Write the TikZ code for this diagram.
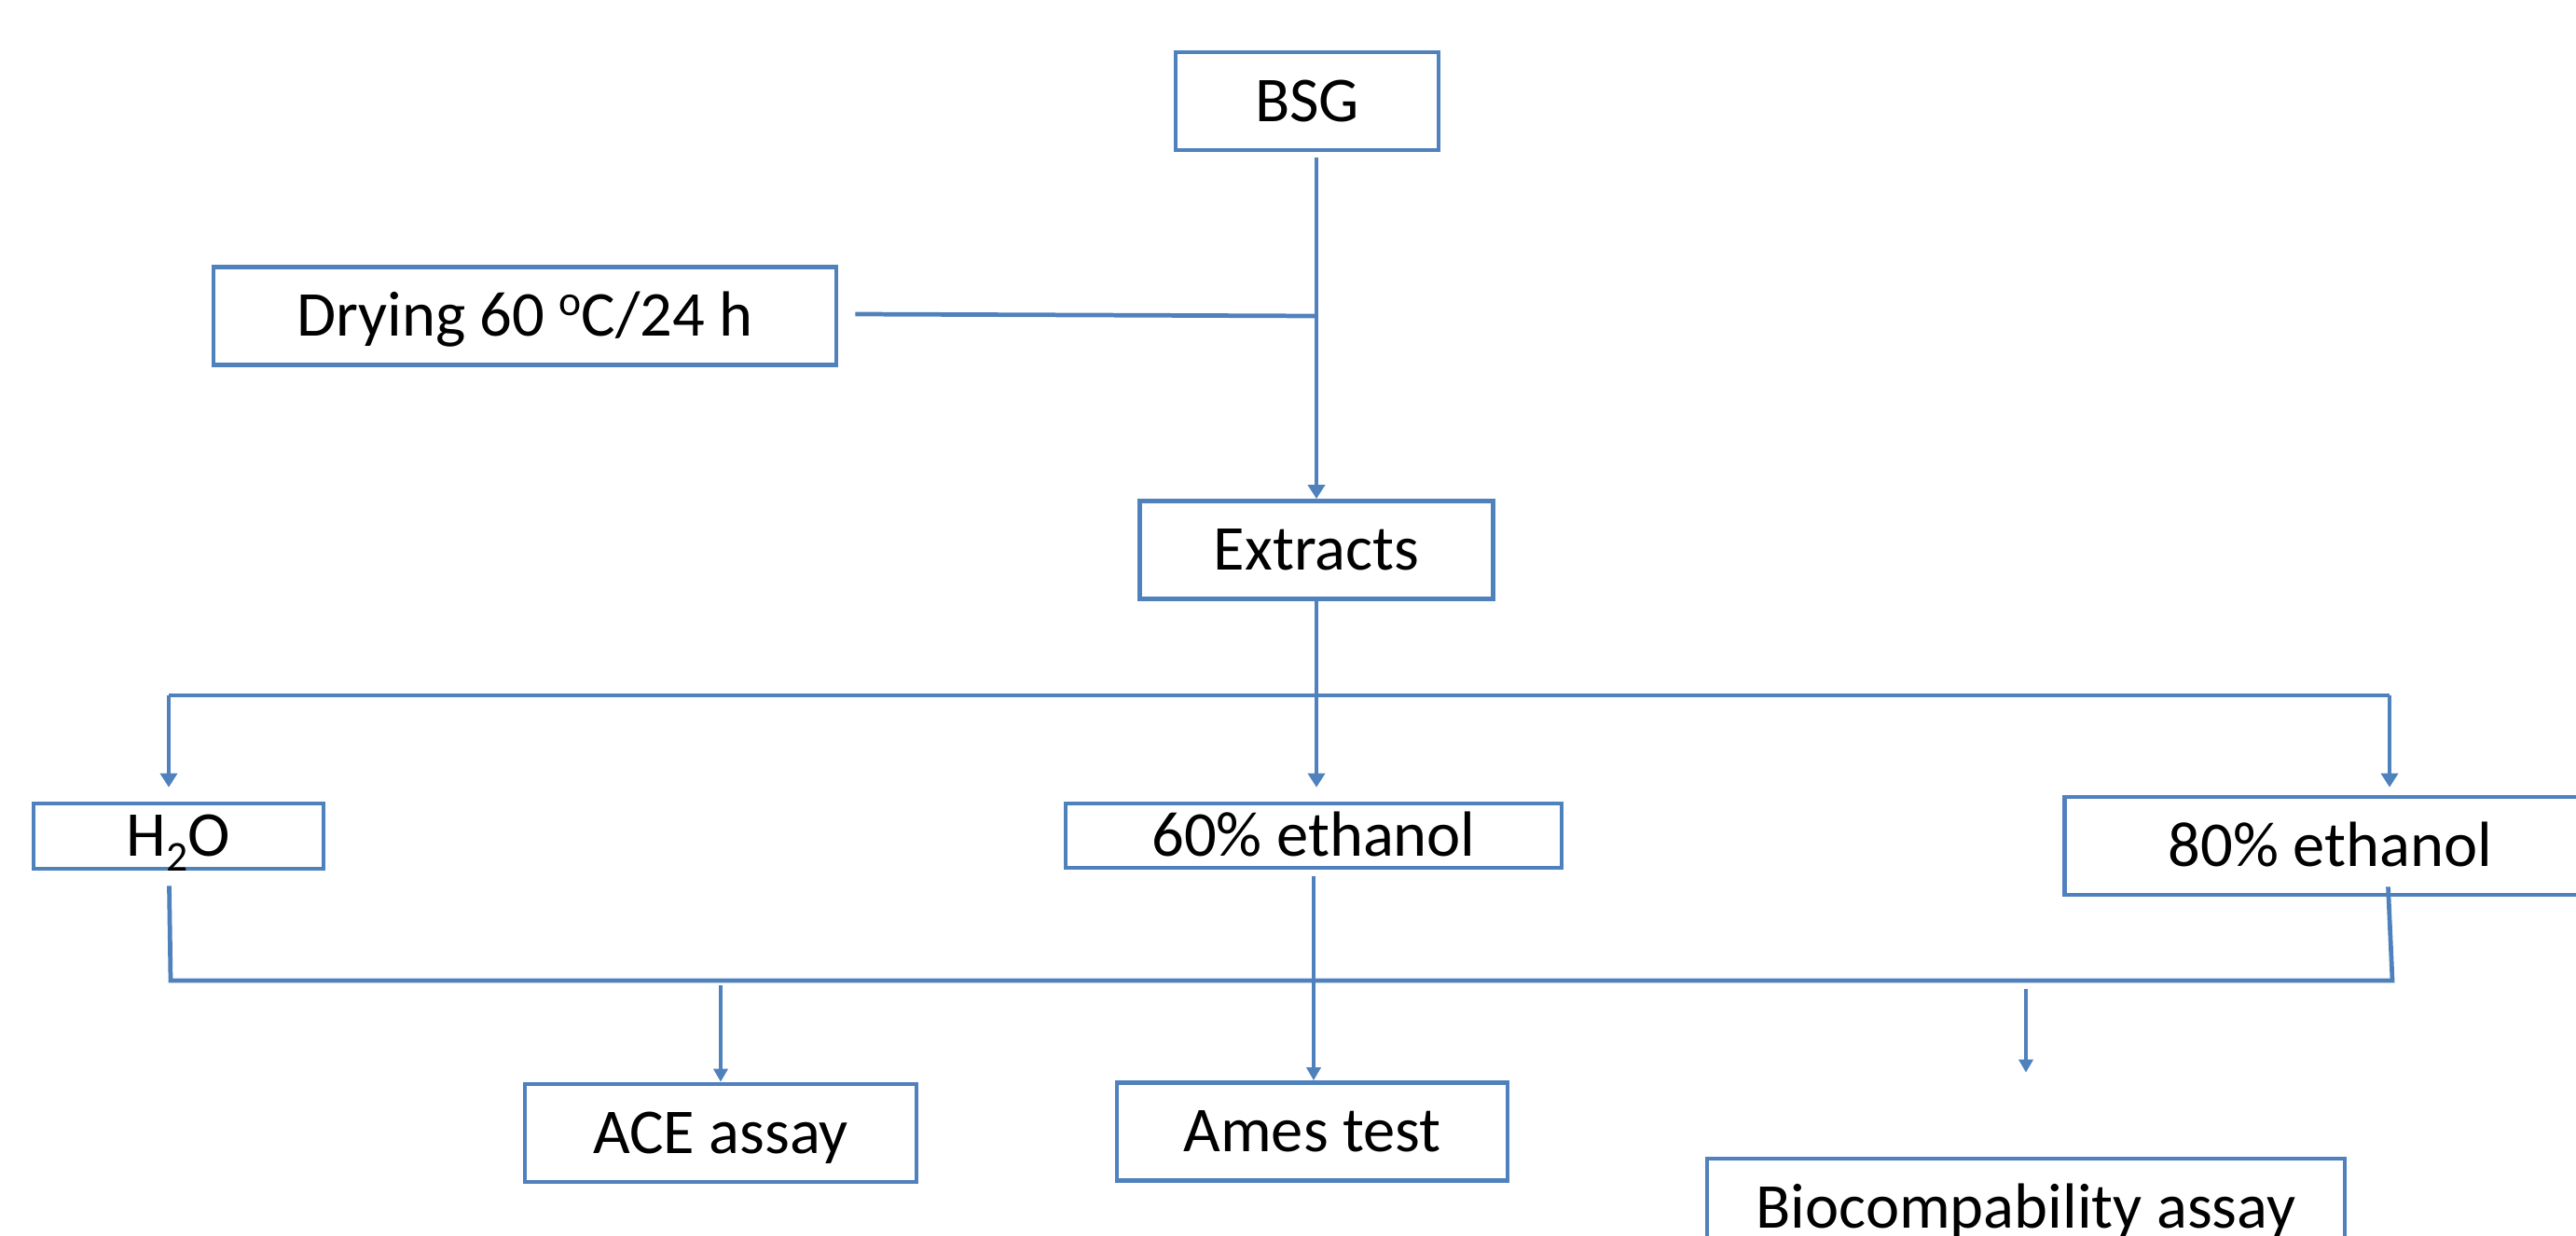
\documentclass[tikz,border=0pt]{standalone}
\usepackage{fontspec}
\setmainfont{Carlito}
\usetikzlibrary{arrows.meta,positioning,calc}
\definecolor{boxblue}{HTML}{4F81BD}

\begin{document}
\begin{tikzpicture}[x=1cm,y=1cm,
  font=\fontsize{19.5}{23}\selectfont,
  >={Triangle[width=1.8mm,length=1.5mm]},
  box/.style={draw=boxblue, line width=1.35pt, fill=white, inner sep=0pt, text height=12.5pt, text depth=0pt, minimum height=1.05cm},
  link/.style={draw=boxblue, line width=1.35pt},
  thinlink/.style={draw=boxblue, line width=1pt, >={Triangle[width=1.5mm,length=1.4mm]}},
]
\clip (0,0) rectangle (27.63,-13.25);
% ---------------- preparation ----------------
\node[box, minimum width=2.82cm] (bsg) at (14.02,-1.085) {BSG};
\node[box, minimum width=6.68cm] (dry) at (5.63,-3.39) {Drying 60 \raisebox{6.5pt}{\fontsize{13}{15}\selectfont o}C/24 h};
\node[box, minimum width=3.79cm] (extr) at (14.12,-5.90) {Extracts};
\draw[link,->] ($(bsg.south -| extr.north)+(0,-0.06)$) -- (extr.north);
\draw[link] ($(dry.east)+(0.18,0.02)$) -- (dry.east -| extr.north);
% ---------------- solvents ----------------
\node[box, minimum width=3.11cm, minimum height=0.70cm] (water) at (1.915,-8.97) {H\raisebox{-4.5pt}{\fontsize{13}{15}\selectfont 2}O};
\node[box, minimum width=5.32cm, minimum height=0.69cm] (eth60) at (14.09,-8.965) {60\% ethanol};
\node[box, minimum width=5.70cm] (eth80) at (24.995,-9.075) {80\% ethanol};
\coordinate (sl) at (1.81,-7.46);
\coordinate (sr) at (25.63,-7.46);
\draw[link] (extr.south) -- (extr.south |- sl);
\draw[link] (sl) -- (sr);
\draw[link,->,shorten >=0.15cm] (sl) -- (sl |- water.north);
\draw[link,->,shorten >=0.15cm] (extr.south |- sl) -- (extr.south |- eth60.north);
\draw[link,->,shorten >=0.08cm] (sr) -- (sr |- eth80.north);
% ---------------- assays ----------------
\node[box, minimum width=4.20cm] (ace) at (7.73,-12.155) {ACE assay};
\node[box, minimum width=4.19cm] (ames) at (14.075,-12.14) {Ames test};
\node[box, minimum width=6.84cm] (bio) at (21.73,-12.955) {Biocompability assay};
\coordinate (ml) at (1.83,-10.52);
\coordinate (mr) at (25.66,-10.52);
\coordinate (mm) at (eth60.south |- ml);
\draw[link] ($(water.south)+(-0.10,-0.16)$) -- (ml) -- (mr) -- ($(eth80.south)+(0.62,0.11)$);
\draw[link] ($(eth60.south)+(0,-0.07)$) -- (mm);
\draw[thinlink,->] (ace.north |- 0,-10.57) -- (ace.north);
\draw[thinlink,->] (mm) -- (mm |- ames.north);
\draw[thinlink,->] (bio.north |- 0,-10.61) -- ($(bio.north)+(0,0.90)$);
\end{tikzpicture}
\end{document}
